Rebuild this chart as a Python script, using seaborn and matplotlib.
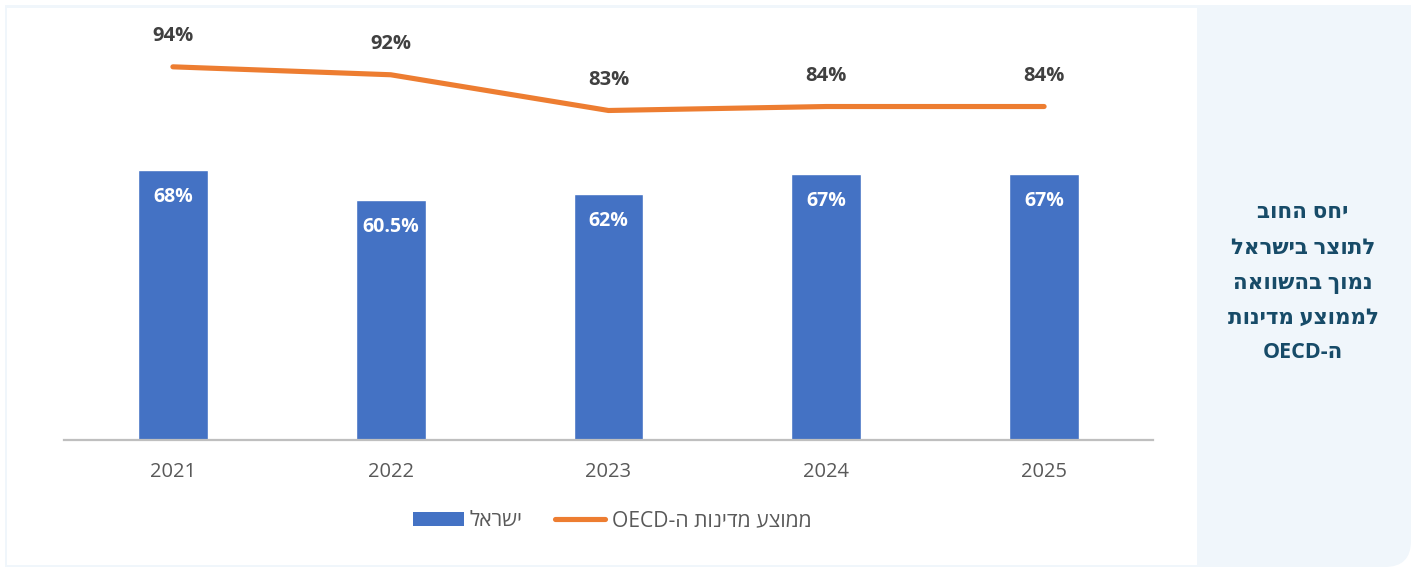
import re
import numpy as np
import pandas as pd
import matplotlib
matplotlib.use("Agg")
import matplotlib.pyplot as plt
from matplotlib.patches import FancyBboxPatch, Rectangle, Patch
from matplotlib.lines import Line2D
import seaborn as sns

# Debt-to-GDP data
years = ["2021", "2022", "2023", "2024", "2025"]
israel = [68, 60.5, 62, 67, 67]
oecd = [94, 92, 83, 84, 84]
israel_labels = ["68%", "60.5%", "62%", "67%", "67%"]
oecd_labels = ["94%", "92%", "83%", "84%", "84%"]

# Hebrew strings (logical order)
legend_israel = "ישראל"
legend_oecd = "ממוצע מדינות ה-OECD"
panel_lines = ["יחס החוב", "לתוצר בישראל", "נמוך בהשוואה", "לממוצע מדינות", "ה-OECD"]


def rtl(s):
    """Return a string in visual order for a right-to-left paragraph."""
    runs = re.findall(r"[A-Za-z0-9]+|[^A-Za-z0-9]", s)
    return "".join(reversed(runs))


sns.set_theme(style="white")
fam = ["Open Sans", "DejaVu Sans"]
plt.rcParams["font.family"] = fam

BAR = "#4472C4"
LINE = "#ED7D31"
CARD = "#F0F6FB"
W, H = 1412, 567
fig = plt.figure(figsize=(W / 100, H / 100), dpi=100, facecolor="white")


def px_rect(x0, y0, x1, y1, color, z, rounded=False):
    """Rectangle given in pixels from the top-left corner."""
    kw = dict(transform=fig.dpi_scale_trans, facecolor=color, edgecolor="none",
              zorder=z)
    xy = (x0 / 100, (H - y1) / 100)
    w, h = (x1 - x0) / 100, (y1 - y0) / 100
    if rounded:
        p = FancyBboxPatch(xy, w, h, boxstyle="round,pad=0,rounding_size=0.26", **kw)
    else:
        p = Rectangle(xy, w, h, **kw)
    fig.patches.append(p)


# Card background: only the bottom-right corner is rounded
px_rect(5, 5, 1411, 567, CARD, -5, rounded=True)
px_rect(5, 5, 1411, 530, CARD, -5)
px_rect(5, 5, 1360, 567, CARD, -5)
# White chart area
px_rect(7, 8, 1197, 565, "white", -4)

ax = fig.add_axes([64 / W, 127 / H, 1089 / W, 397 / H])
ax.set_facecolor("none")
ax.set_zorder(1)

df = pd.DataFrame({"year": years, "israel": israel, "oecd": oecd})
sns.barplot(data=df, x="year", y="israel", color=BAR, width=0.32,
            saturation=1, ax=ax, zorder=2)
sns.lineplot(x=np.arange(len(years)), y=df["oecd"].values, color=LINE, lw=3.7,
             ax=ax, zorder=3, solid_capstyle="round")

ax.set_xlim(-0.5, len(years) - 0.5)
ax.set_ylim(0, 100)
ax.set_xlabel("")
ax.set_ylabel("")
ax.set_yticks([])
for s in ["top", "right", "left"]:
    ax.spines[s].set_visible(False)
ax.spines["bottom"].set_color("#BFBFBF")
ax.spines["bottom"].set_linewidth(1.6)
ax.tick_params(axis="x", length=0, pad=16, labelsize=14.5, labelcolor="#595959")

for i, (v, lab) in enumerate(zip(israel, israel_labels)):
    ax.annotate(lab, (i, v), xytext=(0, -19.5), textcoords="offset points",
                ha="center", va="center", color="white", fontsize=14,
                fontweight="bold", zorder=4)
for i, (v, lab) in enumerate(zip(oecd, oecd_labels)):
    ax.annotate(lab, (i, v), xytext=(0, 22), textcoords="offset points",
                ha="center", va="center", color="#404040", fontsize=14.5,
                fontweight="bold", annotation_clip=False, zorder=4)

handles = [Patch(facecolor=BAR, edgecolor="none"),
           Line2D([0], [0], color=LINE, lw=3.7, solid_capstyle="round")]
fig.legend(handles, [rtl(legend_israel), rtl(legend_oecd)], ncol=2,
           loc="center", bbox_to_anchor=(612 / W, 46 / H), frameon=False,
           labelcolor="#595959", handlelength=2.4,
           handleheight=0.6, handletextpad=0.3, columnspacing=1.5,
           prop={"family": fam, "size": 15.2})

# Side panel caption
y0 = 213
for k, line in enumerate(panel_lines):
    fig.text(1303 / W, 1 - (y0 + k * 35) / H, rtl(line), ha="center",
             va="center", fontsize=15.5, fontweight="bold", color="#174B68",
             family=fam)

fig.savefig("out.png", dpi=100, facecolor="white")
